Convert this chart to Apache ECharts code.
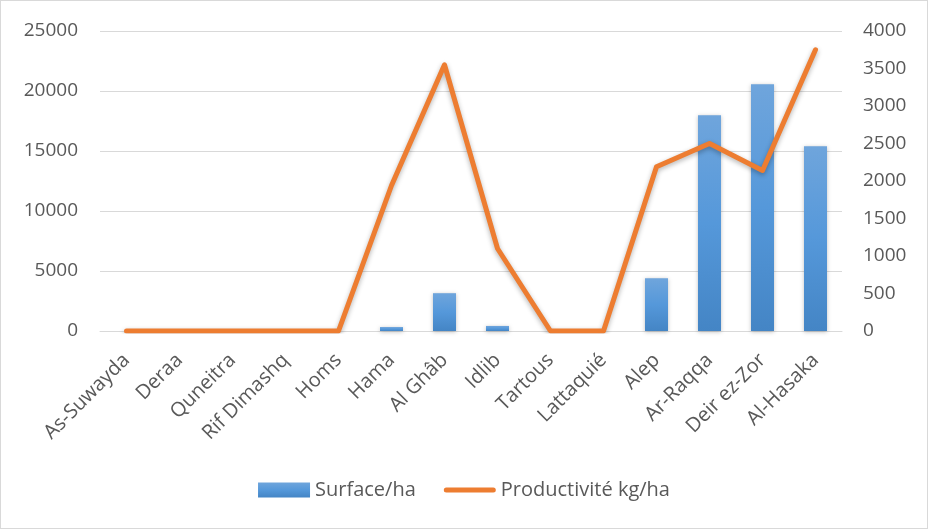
<!DOCTYPE html>
<html>
<head>
<meta charset="utf-8">
<script src="https://cdn.jsdelivr.net/npm/echarts@6/dist/echarts.min.js"></script>
<style>
    html,body{margin:0;padding:0;background:#fff;}
    #chart{width:926px;height:527px;border:1px solid #d9d9d9;}
</style>
</head>
<body>
<div id="chart"></div>
<script>
    // régions
    var categories = ['As-Suwayda','Deraa','Quneitra','Rif Dimashq','Homs','Hama','Al Ghâb','Idlib','Tartous','Lattaquié','Alep','Ar-Raqqa','Deir ez-Zor','Al-Hasaka'];
    // surface (ha)
    var surface = [0,0,0,0,0,330,3150,420,0,0,4400,17980,20570,15390];
    // productivité (kg/ha)
    var productivite = [0,0,0,0,0,1940,3550,1100,0,0,2190,2500,2140,3750];

    var textColor = '#595959';
    var fontFam = '"Open Sans", sans-serif';
    // icône de légende pour la ligne (bande arrondie)
    var lineIcon = 'path://M0,0L0,0ZM0,15L0,15ZM2.5,5A2.5,2.5,0,0,0,2.5,10L49.5,10A2.5,2.5,0,0,0,49.5,5Z';

    var plainNum = function(value){
        return String(value);
    };

    var myChart = echarts.init(document.getElementById('chart'));
    var option = {
        animation: false,
        grid: {
            left: 99,
            right: 85,
            top: 30,
            bottom: 197
        },
        legend: {
            bottom: 23,
            left: 'center',
            itemWidth: 52,
            itemHeight: 15,
            itemGap: 28,
            textStyle: { color: textColor, fontSize: 20, fontFamily: fontFam },
            data: [
                { name: 'Surface/ha', icon: 'rect' },
                { name: 'Productivité kg/ha', icon: lineIcon }
            ]
        },
        xAxis: {
            type: 'category',
            data: categories,
            axisLine: { lineStyle: { color: '#d9d9d9', width: 1 } },
            axisTick: { show: false },
            axisLabel: {
                rotate: 45,
                interval: 0,
                margin: 26,
                color: textColor,
                fontSize: 20,
                fontFamily: fontFam
            }
        },
        yAxis: [
            {
                type: 'value',
                min: 0,
                max: 25000,
                interval: 5000,
                axisLine: { show: false },
                axisTick: { show: false },
                splitLine: { lineStyle: { color: '#d9d9d9', width: 1 } },
                axisLabel: { color: textColor, fontSize: 19, fontFamily: fontFam, margin: 22, formatter: plainNum }
            },
            {
                type: 'value',
                min: 0,
                max: 4000,
                interval: 500,
                axisLine: { show: false },
                axisTick: { show: false },
                splitLine: { show: false },
                axisLabel: { color: textColor, fontSize: 19, fontFamily: fontFam, margin: 21, formatter: plainNum }
            }
        ],
        series: [
            {
                name: 'Surface/ha',
                type: 'bar',
                data: surface,
                barWidth: 23,
                itemStyle: {
                    color: {
                        type: 'linear',
                        x: 0, y: 0, x2: 0, y2: 1,
                        colorStops: [
                            { offset: 0, color: '#6fa5dc' },
                            { offset: 0.5, color: '#5598da' },
                            { offset: 1, color: '#4485c5' }
                        ]
                    },
                    shadowColor: 'rgba(0,0,0,0.25)',
                    shadowBlur: 4,
                    shadowOffsetY: 1
                }
            },
            {
                name: 'Productivité kg/ha',
                type: 'line',
                yAxisIndex: 1,
                data: productivite,
                symbol: 'none',
                lineStyle: {
                    color: '#ed7d31',
                    width: 5,
                    cap: 'round',
                    join: 'round',
                    shadowColor: 'rgba(0,0,0,0.3)',
                    shadowBlur: 5,
                    shadowOffsetY: 2
                },
                itemStyle: { color: '#ed7d31' },
                z: 3
            }
        ]
    };
    myChart.setOption(option);
    window.onresize = function(){
        myChart.resize();
    }
</script>
</body>
</html>
